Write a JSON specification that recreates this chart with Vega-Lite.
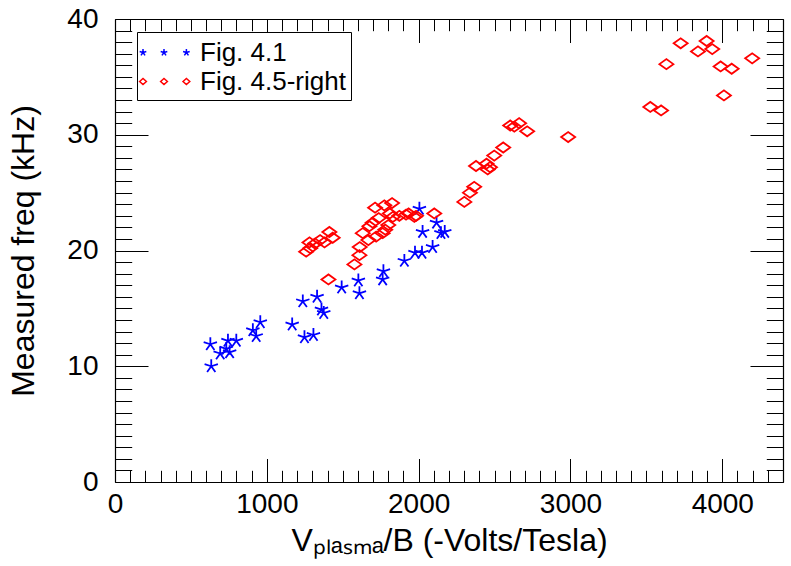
{
  "$schema": "https://vega.github.io/schema/vega-lite/v6.json",
  "width": 668,
  "height": 463,
  "autosize": {"type": "none"},
  "padding": {"left": 115, "top": 19, "right": 8, "bottom": 84},
  "background": "white",
  "config": {
    "view": {"stroke": null},
    "font": "Liberation Sans",
    "axis": {
      "labelFont": "Liberation Sans",
      "titleFont": "Liberation Sans",
      "labelColor": "black",
      "titleColor": "black",
      "tickColor": "black",
      "domainColor": "black",
      "labelFontSize": 28,
      "titleFontSize": 32,
      "titleFontWeight": "normal",
      "grid": false,
      "labelOverlap": false,
      "labelFlush": false,
      "tickWidth": 1,
      "domainWidth": 1.2
    },
    "legend": {
      "orient": "none",
      "legendX": 22,
      "legendY": 13,
      "title": null,
      "strokeColor": "black",
      "fillColor": "white",
      "padding": 5,
      "symbolSize": 841,
      "symbolStrokeWidth": 1.5,
      "labelFont": "Liberation Sans",
      "labelFontSize": 26,
      "labelColor": "black",
      "labelOffset": 27,
      "rowPadding": 0
    }
  },
  "data": {
    "values": [
      {"x": 628, "y": 11.9, "series": "Fig. 4.1"},
      {"x": 634, "y": 10.0, "series": "Fig. 4.1"},
      {"x": 693, "y": 11.1, "series": "Fig. 4.1"},
      {"x": 733, "y": 11.5, "series": "Fig. 4.1"},
      {"x": 744, "y": 12.2, "series": "Fig. 4.1"},
      {"x": 755, "y": 11.2, "series": "Fig. 4.1"},
      {"x": 799, "y": 12.2, "series": "Fig. 4.1"},
      {"x": 908, "y": 13.1, "series": "Fig. 4.1"},
      {"x": 930, "y": 12.6, "series": "Fig. 4.1"},
      {"x": 957, "y": 13.8, "series": "Fig. 4.1"},
      {"x": 1167, "y": 13.6, "series": "Fig. 4.1"},
      {"x": 1237, "y": 15.6, "series": "Fig. 4.1"},
      {"x": 1248, "y": 12.5, "series": "Fig. 4.1"},
      {"x": 1307, "y": 12.7, "series": "Fig. 4.1"},
      {"x": 1331, "y": 16.0, "series": "Fig. 4.1"},
      {"x": 1360, "y": 14.9, "series": "Fig. 4.1"},
      {"x": 1375, "y": 14.6, "series": "Fig. 4.1"},
      {"x": 1493, "y": 16.8, "series": "Fig. 4.1"},
      {"x": 1603, "y": 17.4, "series": "Fig. 4.1"},
      {"x": 1610, "y": 16.3, "series": "Fig. 4.1"},
      {"x": 1763, "y": 17.5, "series": "Fig. 4.1"},
      {"x": 1768, "y": 18.2, "series": "Fig. 4.1"},
      {"x": 1906, "y": 19.1, "series": "Fig. 4.1"},
      {"x": 1976, "y": 19.8, "series": "Fig. 4.1"},
      {"x": 2022, "y": 19.8, "series": "Fig. 4.1"},
      {"x": 2092, "y": 20.3, "series": "Fig. 4.1"},
      {"x": 2005, "y": 23.6, "series": "Fig. 4.1"},
      {"x": 2026, "y": 21.6, "series": "Fig. 4.1"},
      {"x": 2118, "y": 22.4, "series": "Fig. 4.1"},
      {"x": 2147, "y": 21.5, "series": "Fig. 4.1"},
      {"x": 2172, "y": 21.6, "series": "Fig. 4.1"},
      {"x": 1259, "y": 19.9, "series": "Fig. 4.5-right"},
      {"x": 1286, "y": 20.2, "series": "Fig. 4.5-right"},
      {"x": 1281, "y": 20.7, "series": "Fig. 4.5-right"},
      {"x": 1318, "y": 20.6, "series": "Fig. 4.5-right"},
      {"x": 1351, "y": 20.9, "series": "Fig. 4.5-right"},
      {"x": 1380, "y": 20.7, "series": "Fig. 4.5-right"},
      {"x": 1412, "y": 21.6, "series": "Fig. 4.5-right"},
      {"x": 1434, "y": 21.1, "series": "Fig. 4.5-right"},
      {"x": 1406, "y": 17.5, "series": "Fig. 4.5-right"},
      {"x": 1577, "y": 18.8, "series": "Fig. 4.5-right"},
      {"x": 1610, "y": 19.6, "series": "Fig. 4.5-right"},
      {"x": 1612, "y": 20.3, "series": "Fig. 4.5-right"},
      {"x": 1632, "y": 21.5, "series": "Fig. 4.5-right"},
      {"x": 1669, "y": 20.9, "series": "Fig. 4.5-right"},
      {"x": 1676, "y": 22.1, "series": "Fig. 4.5-right"},
      {"x": 1697, "y": 22.4, "series": "Fig. 4.5-right"},
      {"x": 1713, "y": 23.7, "series": "Fig. 4.5-right"},
      {"x": 1720, "y": 21.2, "series": "Fig. 4.5-right"},
      {"x": 1737, "y": 22.8, "series": "Fig. 4.5-right"},
      {"x": 1763, "y": 21.5, "series": "Fig. 4.5-right"},
      {"x": 1774, "y": 23.9, "series": "Fig. 4.5-right"},
      {"x": 1780, "y": 21.8, "series": "Fig. 4.5-right"},
      {"x": 1800, "y": 22.2, "series": "Fig. 4.5-right"},
      {"x": 1810, "y": 23.2, "series": "Fig. 4.5-right"},
      {"x": 1825, "y": 24.1, "series": "Fig. 4.5-right"},
      {"x": 1830, "y": 22.9, "series": "Fig. 4.5-right"},
      {"x": 1873, "y": 23.0, "series": "Fig. 4.5-right"},
      {"x": 1917, "y": 23.1, "series": "Fig. 4.5-right"},
      {"x": 1934, "y": 23.2, "series": "Fig. 4.5-right"},
      {"x": 1972, "y": 22.9, "series": "Fig. 4.5-right"},
      {"x": 1983, "y": 23.0, "series": "Fig. 4.5-right"},
      {"x": 2103, "y": 23.2, "series": "Fig. 4.5-right"},
      {"x": 2301, "y": 24.2, "series": "Fig. 4.5-right"},
      {"x": 2338, "y": 25.0, "series": "Fig. 4.5-right"},
      {"x": 2366, "y": 25.5, "series": "Fig. 4.5-right"},
      {"x": 2378, "y": 27.3, "series": "Fig. 4.5-right"},
      {"x": 2447, "y": 27.5, "series": "Fig. 4.5-right"},
      {"x": 2470, "y": 27.2, "series": "Fig. 4.5-right"},
      {"x": 2455, "y": 27.0, "series": "Fig. 4.5-right"},
      {"x": 2498, "y": 28.2, "series": "Fig. 4.5-right"},
      {"x": 2557, "y": 28.9, "series": "Fig. 4.5-right"},
      {"x": 2603, "y": 30.8, "series": "Fig. 4.5-right"},
      {"x": 2630, "y": 30.7, "series": "Fig. 4.5-right"},
      {"x": 2662, "y": 31.0, "series": "Fig. 4.5-right"},
      {"x": 2715, "y": 30.3, "series": "Fig. 4.5-right"},
      {"x": 2985, "y": 29.8, "series": "Fig. 4.5-right"},
      {"x": 3526, "y": 32.4, "series": "Fig. 4.5-right"},
      {"x": 3597, "y": 32.1, "series": "Fig. 4.5-right"},
      {"x": 3632, "y": 36.1, "series": "Fig. 4.5-right"},
      {"x": 3726, "y": 37.9, "series": "Fig. 4.5-right"},
      {"x": 3840, "y": 37.2, "series": "Fig. 4.5-right"},
      {"x": 3897, "y": 38.1, "series": "Fig. 4.5-right"},
      {"x": 3934, "y": 37.4, "series": "Fig. 4.5-right"},
      {"x": 3989, "y": 35.9, "series": "Fig. 4.5-right"},
      {"x": 4011, "y": 33.4, "series": "Fig. 4.5-right"},
      {"x": 4062, "y": 35.7, "series": "Fig. 4.5-right"},
      {"x": 4197, "y": 36.6, "series": "Fig. 4.5-right"}
    ]
  },
  "layer": [
    {
      "transform": [{"filter": "datum.series === 'Fig. 4.1'"}],
      "mark": {"type": "point", "filled": false, "size": 196, "strokeWidth": 1.8, "opacity": 1,
               "shape": "M0,0L0,-1M0,0L0.951,-0.309M0,0L0.588,0.809M0,0L-0.588,0.809M0,0L-0.951,-0.309"},
      "encoding": {
        "x": {
          "field": "x", "type": "quantitative",
          "scale": {"domain": [0, 4400], "nice": false, "zero": false},
          "axis": {
            "orient": "bottom",
            "title": "Vₚₗₐₛₘₐ/B (-Volts/Tesla)",
            "tickCount": 44,
            "format": "d",
            "tickSize": {"condition": {"test": "datum.value % 1000 === 0", "value": -23.5}, "value": -11.7},
            "labelExpr": "datum.value % 1000 === 0 ? datum.label : ''",
            "labelPadding": 32,
            "titlePadding": -5
          }
        },
        "y": {
          "field": "y", "type": "quantitative",
          "scale": {"domain": [0, 40], "nice": false},
          "axis": {
            "orient": "left",
            "title": "Measured freq (kHz)",
            "tickCount": 40,
            "format": "d",
            "tickSize": {"condition": {"test": "datum.value % 10 === 0", "value": -33}, "value": -16.7},
            "labelExpr": "datum.value % 10 === 0 ? datum.label : ''",
            "labelPadding": 50,
            "labelBaseline": "middle",
            "titlePadding": 26
          }
        },
        "color": {
          "field": "series", "type": "nominal",
          "scale": {"domain": ["Fig. 4.1", "Fig. 4.5-right"], "range": ["#0000ff", "#ff0000"]}
        }
      }
    },
    {
      "transform": [{"filter": "datum.series === 'Fig. 4.5-right'"}],
      "mark": {"type": "point", "filled": false, "size": 196, "strokeWidth": 1.8, "opacity": 1,
               "shape": "M-1,0L0,-0.72L1,0L0,0.72Z"},
      "encoding": {
        "x": {"field": "x", "type": "quantitative", "axis": null},
        "y": {"field": "y", "type": "quantitative", "axis": null},
        "color": {"field": "series", "type": "nominal"}
      }
    },
    {
      "transform": [{"filter": "false"}],
      "mark": {"type": "point", "filled": false, "size": 196, "strokeWidth": 1.5, "opacity": 1},
      "encoding": {
        "x": {
          "field": "x", "type": "quantitative",
          "axis": {
            "orient": "top",
            "title": null,
            "labels": false,
            "tickCount": 44,
            "tickSize": {"condition": {"test": "datum.value % 1000 === 0", "value": -23.5}, "value": -11.7}
          }
        },
        "y": {
          "field": "y", "type": "quantitative",
          "axis": {
            "orient": "right",
            "title": null,
            "labels": false,
            "tickCount": 40,
            "tickSize": {"condition": {"test": "datum.value % 10 === 0", "value": -33}, "value": -16.7}
          }
        },
        "color": {"field": "series", "type": "nominal"},
        "shape": {
          "field": "series", "type": "nominal",
          "scale": {
            "domain": ["Fig. 4.1", "Fig. 4.5-right"],
            "range": [
              "M-1,0L-1,-0.241M-1,0L-0.771,-0.074M-1,0L-0.858,0.195M-1,0L-1.142,0.195M-1,0L-1.229,-0.074M0.448,0L0.448,-0.241M0.448,0L0.677,-0.074M0.448,0L0.59,0.195M0.448,0L0.306,0.195M0.448,0L0.219,-0.074M1.993,0L1.993,-0.241M1.993,0L2.222,-0.074M1.993,0L2.135,0.195M1.993,0L1.851,0.195M1.993,0L1.764,-0.074",
              "M-1.234,0L-1,-0.207L-0.766,0L-1,0.207ZM0.214,0L0.448,-0.207L0.682,0L0.448,0.207ZM1.759,0L1.993,-0.207L2.227,0L1.993,0.207Z"
            ]
          }
        }
      }
    }
  ],
  "resolve": {"axis": {"x": "independent", "y": "independent"}}
}
